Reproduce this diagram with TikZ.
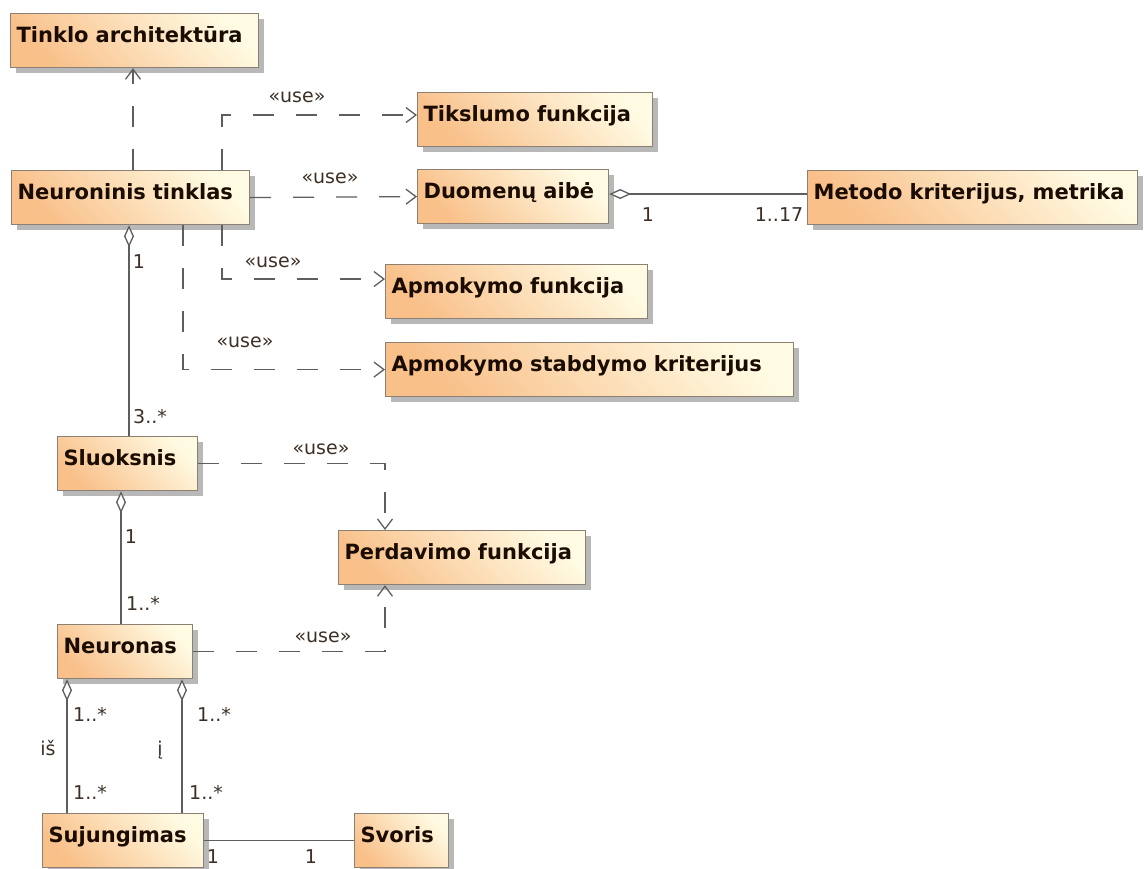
\documentclass[tikz,border=0pt]{standalone}
\usepackage{fontspec}
\setmainfont{DejaVu Sans}
\usetikzlibrary{arrows.meta,shadows}

\definecolor{boxorange}{HTML}{F9C08A}
\definecolor{boxcream}{HTML}{FFFAE2}
\definecolor{boxline}{HTML}{8C8074}
\definecolor{wire}{HTML}{5E5E5E}
\definecolor{ink}{HTML}{1A0C00}

\tikzset{
  cls/.style={draw=boxline, line width=1.2pt,
    top color=boxcream, bottom color=boxorange, shading angle=-45,
    drop shadow={shadow xshift=5pt, shadow yshift=-5pt, fill=black!28, opacity=1},
    anchor=north west, inner xsep=6pt, inner ysep=0pt,
    text height=29pt, text depth=25pt, text width=#1, align=left,
    text=ink, font=\fontsize{21}{25}\selectfont\bfseries},
  dep/.style={draw=wire, line width=1.3pt, dash pattern=on 21pt off 22pt,
    -{Straight Barb[length=10pt,width=15pt,line width=1.3pt]}},
  agg/.style={draw=wire, line width=1.6pt,
    {Diamond[fill=white,length=22pt,width=10pt,line width=1.3pt]}-},
  assoc/.style={draw=wire, line width=1.6pt},
  lbl/.style={text=ink!85, font=\fontsize{19}{23}\selectfont, inner sep=0pt},
}

\begin{document}
\begin{tikzpicture}[x=1pt,y=-1pt]
  \useasboundingbox[fill=white] (0,0) rectangle (1148,868);

  % classes
  \node[cls=236pt] (tinklo)   at (10,13)   {Tinklo architektūra};
  \node[cls=226pt] (neuro)    at (11,170)  {Neuroninis tinklas};
  \node[cls=223pt] (tiks)     at (417,92)  {Tikslumo funkcija};
  \node[cls=179pt] (duom)     at (417,169) {Duomenų aibė};
  \node[cls=318pt] (metodo)   at (807,170) {Metodo kriterijus, metrika};
  \node[cls=250pt] (apmf)     at (385,264) {Apmokymo funkcija};
  \node[cls=396pt] (apms)     at (385,342) {Apmokymo stabdymo kriterijus};
  \node[cls=128pt] (sluok)    at (57,436)  {Sluoksnis};
  \node[cls=235pt] (perd)     at (338,530) {Perdavimo funkcija};
  \node[cls=123pt] (neuronas) at (57,624)  {Neuronas};
  \node[cls=149pt] (suj)      at (42,813)  {Sujungimas};
  \node[cls=82pt]  (svoris)   at (354,813) {Svoris};

  % helper positions for connector legs
  \coordinate (xa) at (133,0);
  \coordinate (xb) at (222,0);
  \coordinate (xc) at (183,0);
  \coordinate (xd) at (129,0);
  \coordinate (xe) at (385,0);
  \coordinate (xf) at (121,0);
  \coordinate (xg) at (67,0);
  \coordinate (xh) at (182,0);
  \coordinate (ytik) at (0,115);
  \coordinate (yapm) at (0,279);
  \coordinate (ydat) at (0,194);

  % dependencies
  \draw[dep] (neuro.north -| xa) -- (tinklo.south -| xa);
  \draw[dep] (neuro.north -| xb) |- (tiks.west |- ytik);
  \draw[dep] (neuro.east) -- (duom.west);
  \draw[dep] (neuro.south -| xb) |- (apmf.west |- yapm);
  \draw[dep] (neuro.south -| xc) |- (apms.west);
  \draw[dep] (sluok.east) -| (perd.north -| xe);
  \draw[dep] (neuronas.east) -| (perd.south -| xe);

  % aggregations and associations
  \draw[agg] (neuro.south -| xd) -- (sluok.north -| xd);
  \draw[agg] (duom.east |- ydat) -- (metodo.west |- ydat);
  \draw[agg] (sluok.south -| xf) -- (neuronas.north -| xf);
  \draw[agg] (neuronas.south -| xg) -- (suj.north -| xg);
  \draw[agg] (neuronas.south -| xh) -- (suj.north -| xh);
  \draw[assoc] (suj.east) -- (svoris.west);

  % stereotypes
  \node[lbl] (u1) at (297,97)  {«use»};
  \node[lbl] (u2) at (330,178) {«use»};
  \node[lbl] (u3) at (273,262) {«use»};
  \node[lbl] (u4) at (245,342) {«use»};
  \node[lbl] (u5) at (321,449) {«use»};
  \node[lbl] (u6) at (323,637) {«use»};

  % multiplicities and role names
  \node[lbl] (m1)  at (139,262) {1};
  \node[lbl] (m2)  at (150,417) {3..*};
  \node[lbl] (m3)  at (648,215) {1};
  \node[lbl] (m4)  at (779,215) {1..17};
  \node[lbl] (m5)  at (131,537) {1};
  \node[lbl] (m6)  at (143,603) {1..*};
  \node[lbl] (m7)  at (90,714)  {1..*};
  \node[lbl] (m8)  at (214,714) {1..*};
  \node[lbl] (m9)  at (90,792)  {1..*};
  \node[lbl] (m10) at (206,792) {1..*};
  \node[lbl] (r1)  at (48,748)  {iš};
  \node[lbl] (r2)  at (160,750) {į};
  \node[lbl] (m11) at (213,857) {1};
  \node[lbl] (m12) at (311,857) {1};
\end{tikzpicture}
\end{document}
